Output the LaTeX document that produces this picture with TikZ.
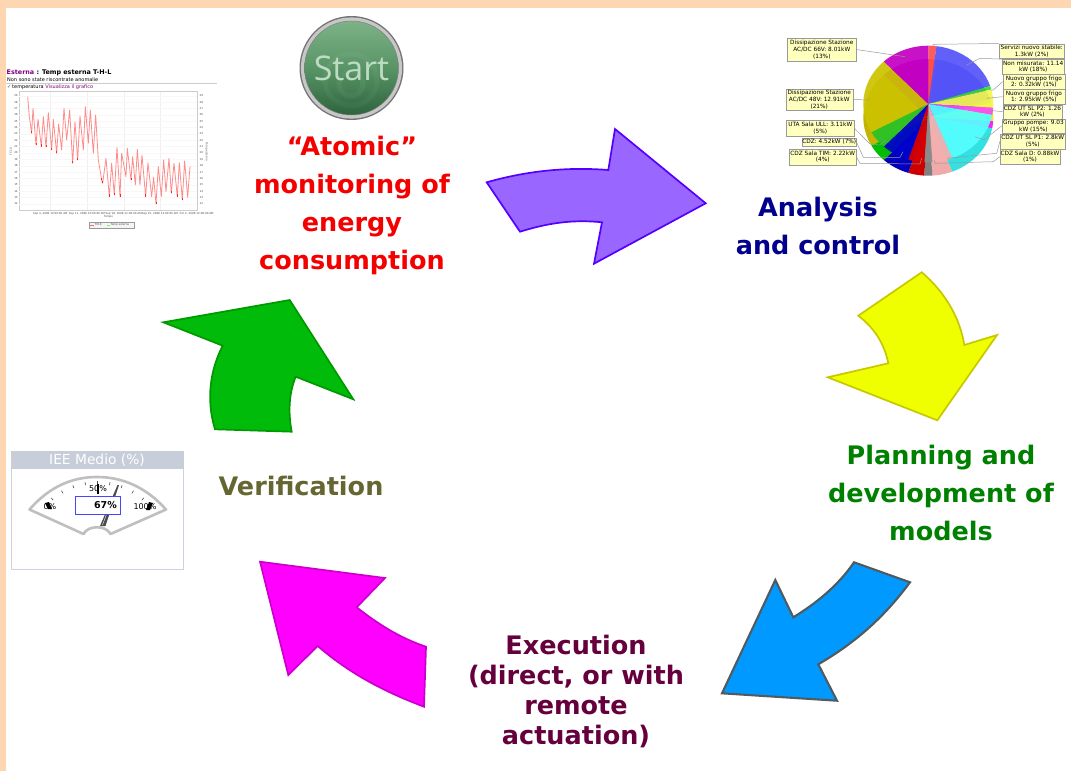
\documentclass[tikz,border=0pt]{standalone}
\usepackage{fontspec}
\setmainfont{DejaVu Sans}
\newfontfamily\startfont{Open Sans}
\usetikzlibrary{shadows,calc}
\definecolor{peach}{RGB}{255,214,178}
\definecolor{lblfill}{RGB}{255,255,190}
\definecolor{gaugehead}{RGB}{200,205,218}
\definecolor{gaugeedge}{RGB}{205,210,225}
\definecolor{linkpurple}{RGB}{128,0,128}
\definecolor{sa}{RGB}{255,60,60}\definecolor{ta}{RGB}{255,80,80}
\definecolor{sb}{RGB}{60,60,235}\definecolor{tb}{RGB}{85,85,250}
\definecolor{sc}{RGB}{30,200,30}\definecolor{tc}{RGB}{50,220,50}
\definecolor{sd}{RGB}{235,235,40}\definecolor{td}{RGB}{245,245,80}
\definecolor{se}{RGB}{240,40,240}\definecolor{te}{RGB}{255,70,255}
\definecolor{sf}{RGB}{50,225,225}\definecolor{tf}{RGB}{85,255,255}
\definecolor{sg}{RGB}{240,170,170}\definecolor{tg}{RGB}{245,175,175}
\definecolor{sh}{RGB}{128,128,128}\definecolor{th}{RGB}{140,140,140}
\definecolor{si}{RGB}{205,0,0}\definecolor{ti}{RGB}{215,0,0}
\definecolor{sj}{RGB}{0,0,190}\definecolor{tj}{RGB}{0,0,205}
\definecolor{sk}{RGB}{0,190,0}\definecolor{tk}{RGB}{40,195,40}
\definecolor{sl}{RGB}{195,180,0}\definecolor{tl}{RGB}{205,195,0}
\definecolor{sm}{RGB}{190,0,190}\definecolor{tm}{RGB}{195,0,195}
\definecolor{btop}{RGB}{125,178,135}
\definecolor{bmid}{RGB}{88,148,102}
\definecolor{bbot}{RGB}{45,100,60}
\tikzset{
  x=1pt,y=-1pt,
  bigarrow/.style={line width=1.7pt,line join=miter,miter limit=10},
  caption/.style={font=\bfseries\fontsize{25.5}{38}\selectfont,align=center,inner sep=0pt},
  plabel/.style 2 args={draw=black!40,line width=.4pt,fill=lblfill,align=center,inner sep=0pt,font=\fontsize{5.8}{6.9}\selectfont,minimum height=#1,minimum width=#2},
  lead/.style={draw=black!40,line width=.5pt},
  tick/.style={font=\fontsize{2.7}{3}\selectfont,text=black!70,inner sep=0pt},
}
% pie slice: \pieslice{cx}{cy}{start pct}{end pct}{color}{opacity}
\newcommand{\pieslice}[6]{%
  \fill[fill=#5,fill opacity=#6] (#1,#2) -- plot[domain=#3:#4,samples=14,variable=\t]
    ({#1+65*sin(3.6*\t)},{#2-58.3*cos(3.6*\t)}) -- cycle;}
\begin{document}
\begin{tikzpicture}
\useasboundingbox (0,0) rectangle (1071,771);
\fill[peach] (0,0) rectangle (1071,771);
\fill[white] (6,8) rectangle (1071,771);

% ---------- arrows
\filldraw[bigarrow,draw={rgb,255:red,85;green,0;blue,255},fill={rgb,255:red,153;green,102;blue,255}]
 (486.7,182.3) .. controls (530,170) and (570,167) .. (608.3,170) -- (615,129) -- (705.7,203.3) -- (594,263.7) -- (602,222.3)
 .. controls (570,219) and (545,224) .. (520,231.7) -- cycle;
\filldraw[bigarrow,draw={rgb,255:red,200;green,200;blue,0},fill={rgb,255:red,240;green,255;blue,0}]
 (921.7,272.3) .. controls (945,292) and (960,318) .. (964.3,345) -- (997,335) -- (937.3,420.3) -- (827.7,377.3) -- (888.3,363.3)
 .. controls (884,342) and (873,327) .. (858.3,315.7) -- cycle;
\filldraw[bigarrow,line width=2.1pt,draw={rgb,255:red,80;green,90;blue,95},fill={rgb,255:red,0;green,153;blue,255}]
 (854,562.3) -- (910,582.3) .. controls (882,620) and (853,644) .. (818.3,664.3) -- (837,700.7) -- (722,693.3) -- (775.3,580) -- (793.3,617.3)
 .. controls (815,604) and (838,586) .. (854,562.3) -- cycle;
\filldraw[bigarrow,draw={rgb,255:red,204;green,0;blue,204},fill={rgb,255:red,255;green,0;blue,255}]
 (260,561.7) -- (385,578) -- (356.7,607.3) .. controls (378,624) and (400,638) .. (426,646.7) -- (424,706.7)
 .. controls (385,692) and (350,674) .. (317.7,646) -- (288.3,675) -- cycle;
\filldraw[bigarrow,draw={rgb,255:red,0;green,153;blue,0},fill={rgb,255:red,0;green,187;blue,10}]
 (163.3,322.3) -- (289.7,300) -- (353.3,399.3) -- (295.7,376.7) .. controls (289,393) and (288,412) .. (291.7,431.7)
 -- (215,429.3) .. controls (206,400) and (210,370) .. (222.7,345.7) -- cycle;

% ---------- captions
\node[caption,text={rgb,255:red,245;green,0;blue,0}] (atomic) at (352,205.5) {“Atomic”\\monitoring of\\energy\\consumption};
\node[caption,text={rgb,255:red,0;green,0;blue,140}] (analysis) at (818,226) {Analysis\\and control};
\node[caption,text={rgb,255:red,0;green,128;blue,0}] (planning) at (941,493) {Planning and\\development of\\models};
\node[caption,text={rgb,255:red,102;green,102;blue,51}] (verif) at (301,486) {Verification};
\node[caption,text={rgb,255:red,102;green,0;blue,60},font=\bfseries\fontsize{25.5}{30}\selectfont] (exec) at (576,691) {Execution\\(direct, or with\\remote\\actuation)};

% ---------- start button
\fill[black!55] (351.5,68) circle (52);
\fill[black!22] (351.5,68) circle (50.6);
\shade[top color=btop,bottom color=bbot,middle color=bmid,draw=black!50,line width=.5pt] (351.5,68) circle (47);
\draw[white,opacity=.05,line width=5pt] (351,84) circle (12);
\draw[white,opacity=.04,line width=5pt] (351,80) circle (26);
\node[inner sep=0pt,text={rgb,255:red,190;green,220;blue,195},font=\startfont\fontsize{34}{34}\selectfont] (start) at (351.5,68) {Start};

% ---------- temperature chart
\node[anchor=west,inner sep=0pt,font=\bfseries\fontsize{6.4}{7}\selectfont] (ctitle) at (6.5,72.5) {\textcolor{linkpurple}{Esterna} : Temp esterna T-H-L};
\node[anchor=west,inner sep=0pt,font=\fontsize{5}{6}\selectfont] (csub) at (7,79.5) {Non sono state riscontrate anomalie};
\draw[black!20,line width=.4pt] (6,83) -- (217,83);
\node[anchor=west,inner sep=0pt,font=\fontsize{5}{6}\selectfont] (ctemp) at (7,86.8) {\textcolor{black!70}{✓}\,temperatura \textcolor{linkpurple}{Visualizza il grafico}};
\begin{scope}[shift={(0,60)},x=.3333pt,y=-.3333pt]
  \draw[black!20,line width=.4pt] (58,95) rectangle (592,450);
  \foreach \gx in {151,261,371,480} \draw[black!6,line width=.3pt] (\gx,95) -- (\gx,450);
  \foreach \n [count=\i from 0] in {29,28,27,26,25,24,23,22,21,20,19,18,17,16,15,14,13,12} {
    \node[tick] at (48,{107+\i*19.1}) {\n};
    \node[tick] at (604,{107+\i*19.1}) {\n};
    \draw[black!3,line width=.2pt] (58,{107+\i*19.1}) -- (592,{107+\i*19.1});
  }
  \foreach \gx/\lb in {151/Sep 4,261/Sep 11,371/Sep 18,480/Sep 25,590/Oct 2}
    \node[tick] at (\gx,460) {\lb, 2008 12:00:00 AM};
  \node[tick,rotate=90] at (33,275) {TC10};
  \node[tick,rotate=-90] at (620,275) {Temp esterna};
  \node[tick] at (326,471) {Tempo};
  \draw[black!40,fill=black!4,line width=.3pt] (266,486) rectangle (401,504);
  \draw[red!60,line width=.5pt] (270,495) -- (281,495);
  \draw[green!60,line width=.5pt] (322,495) -- (330,495);
  \node[tick,anchor=west] at (284,495) {TC10};
  \node[tick,anchor=west] at (332,495) {Temp esterna};
  \draw[red!45!white,line width=.8pt,line join=round]
   plot coordinates {(83,110)(88,170)(95,220)(99,145)(108,255)(114,178)(124,260)(130,170)(138,262)(145,158)(155,270)(160,178)(170,280)(176,192)(185,270)(192,145)(200,240)(209,150)(218,310)(225,185)(233,300)(240,168)(250,270)(256,140)(265,250)(271,150)(280,280)(287,165)(295,300)(305,360)(308,370)(318,295)(328,410)(335,310)(343,405)(351,262)(360,410)(365,280)(378,350)(382,265)(393,360)(398,290)(406,375)(412,268)(420,375)(426,285)(437,410)(444,308)(455,410)(461,352)(468,432)(475,320)(484,410)(491,300)(498,395)(507,295)(514,400)(522,310)(532,410)(538,308)(547,420)(554,303)(563,412)(570,320)};
  \foreach \px/\py in {95/220,108/255,124/260,138/262,155/270,170/280,218/310,233/300,305/360,308/370,328/410,343/405,360/410,393/360,437/410,468/432,514/400,532/410,547/420}
    \draw[red!85,line width=.7pt] (\px,\py-7) -- (\px,\py);
\end{scope}

% ---------- gauge
\draw[fill=white,draw=gaugeedge,line width=1pt] (11.5,451) rectangle (183,569.3);
\fill[gaugehead] (11,451) rectangle (183.5,469.3);
\node[inner sep=0pt,text=white,font=\fontsize{13.8}{14}\selectfont] (gtitle) at (97,460.5) {IEE Medio (\%)};
\draw[black!25,line width=2.6pt,line join=round] (29.5,509.5) .. controls (50,486) and (73,477) .. (97,477) .. controls (121,477) and (145,486) .. (166,509.5)
  -- (110.5,534) .. controls (106,525) and (88,525) .. (83.5,534) -- cycle;
\foreach \a in {-40,-30,-20,-10,0,10,20,30,40}
  \draw[black!70,line width=.6pt] ({97.5+sin(\a)*72},{553-cos(\a)*72}) -- ({97.5+sin(\a)*69},{553-cos(\a)*69});
\node[inner sep=0pt,font=\fontsize{8}{8}\selectfont] (g0) at (50,507) {0\%};
\node[inner sep=0pt,font=\fontsize{8}{8}\selectfont] (g50) at (98,489) {50\%};
\node[inner sep=0pt,font=\fontsize{8}{8}\selectfont] (g100) at (145,507) {100\%};
\fill[black] (45,503) -- (49,502) -- (52,509) -- (48,509) -- cycle;
\fill[black] (146,510) -- (149,502) -- (153,503) -- (150,510) -- cycle;
\fill[black] (96.5,484) rectangle (99,494);
\fill[black!70] (100,526) -- (105.5,526) -- (119,485) -- (117.5,485) -- cycle;
\draw[white,line width=.4pt] (102.5,525) -- (107,513);
\draw[draw={rgb,255:red,70;green,70;blue,255},fill=white,line width=.9pt] (75.7,496) rectangle (120,514.7);
\node[inner sep=0pt,anchor=east,font=\bfseries\fontsize{9.5}{10}\selectfont] (gval) at (117,505.5) {67\%};

% ---------- pie
\begin{scope}
\def\pc{928.3}\def\pd{117.4}\def\pe{104}
\foreach \a/\b/\col in {0/2/sa,2/20/sb,20/21/sc,21/26/sd,26/28/se,28/44/sf,44/49/sg,49/51/sh,51/55/si,55/62/sj,62/67/sk,67/88/sl,88/100/sm}
  {\pieslice{\pc}{\pd}{\a}{\b}{\col}{1}}
\foreach \a/\b/\col in {0/2/ta,2/20/tb,20/21/tc,21/26/td,26/28/te,28/44/tf,44/49/tg,49/51/th,51/55/ti,55/62/tj,62/67/tk,67/88/tl,88/100/tm}
  {\pieslice{\pc}{\pe}{\a}{\b}{\col}{.93}}
\end{scope}

% ---------- pie leaders end points
\coordinate (e66) at (905,56.7);
\coordinate (e48) at (870,100);
\coordinate (eula) at (886,140);
\coordinate (ecdz) at (903,151.7);
\coordinate (etim) at (921.7,158.3);
\coordinate (eser) at (932.7,45.7);
\coordinate (enon) at (966.7,65);
\coordinate (eng2) at (990.7,90);
\coordinate (eng1) at (986.7,98.3);
\coordinate (ep2) at (986.7,110);
\coordinate (egp) at (975,136.7);
\coordinate (ep1) at (946.7,158.3);
\coordinate (ed) at (934,160);

% ---------- pie labels
\node[plabel={22.4pt}{68.3pt}] (l66) at (821.8,49.5) {Dissipazione Stazione\\AC/DC 66V: 8.01kW\\(13\%)};
\node[plabel={21pt}{67pt}] (l48) at (819.2,99.5) {Dissipazione Stazione\\AC/DC 48V: 12.91kW\\(21\%)};
\node[plabel={16pt}{67.3pt}] (lula) at (820.3,128) {UTA Sala ULL: 3.11kW\\(5\%)};
\node[plabel={8.6pt}{53.3pt}] (lcdz) at (829.3,142) {CDZ: 4.52kW (7\%)};
\node[plabel={16pt}{66.7pt}] (ltim) at (822.7,156.7) {CDZ Sala TIM: 2.22kW\\(4\%)};
\node[plabel={14.6pt}{64.7pt}] (lser) at (1031.7,51) {Servizi nuovo stabile:\\1.3kW (2\%)};
\node[plabel={14.7pt}{61.7pt}] (lnon) at (1033.2,66.7) {Non misurata: 11.14\\kW (18\%)};
\node[plabel={15.3pt}{62.3pt}] (lng2) at (1033.9,81.7) {Nuovo gruppo frigo\\2: 0.32kW (1\%)};
\node[plabel={14.7pt}{62.3pt}] (lng1) at (1033.9,96.7) {Nuovo gruppo frigo\\1: 2.95kW (5\%)};
\node[plabel={14pt}{59.3pt}] (lp2) at (1032.4,111.7) {CDZ UT SL P2: 1.26\\kW (2\%)};
\node[plabel={14.6pt}{63.3pt}] (lgp) at (1033.4,126) {Gruppo pompe: 9.03\\kW (15\%)};
\node[plabel={15pt}{65.3pt}] (lp1) at (1032.7,141.5) {CDZ UT SL P1: 2.8kW\\(5\%)};
\node[plabel={14.7pt}{60pt}] (ld) at (1030,156.7) {CDZ Sala D: 0.88kW\\(1\%)};
% leaders
\draw[lead] (l66.east) -- (e66);
\draw[lead] (l48.east) -- (e48);
\draw[lead] (lula.east) -- (870,144) -- (880,145) -- (eula);
\draw[lead] (lcdz.east) -- (863.3,157.3) -- (900,157.3) -- (ecdz);
\draw[lead] (ltim.east) -- (860,163.3) -- (920,164) -- (etim);
\draw[lead] (lser.north west) -- (933.3,44.3) -- (eser);
\draw[lead] (lnon.north west) -- (980,58.3) -- (enon);
\draw[lead] (lng2.west) -- (993.3,90) -- (eng2);
\draw[lead] (lng1.west) -- (eng1);
\draw[lead] (lp2.west) -- (ep2);
\draw[lead] (lgp.west) -- (984,140) -- (egp);
\draw[lead] (lp1.west) -- (996.7,153.3) -- (ep1);
\draw[lead] (ld.west) -- (993.3,161.7) -- (935,163.3) -- (ed);
\end{tikzpicture}
\end{document}
